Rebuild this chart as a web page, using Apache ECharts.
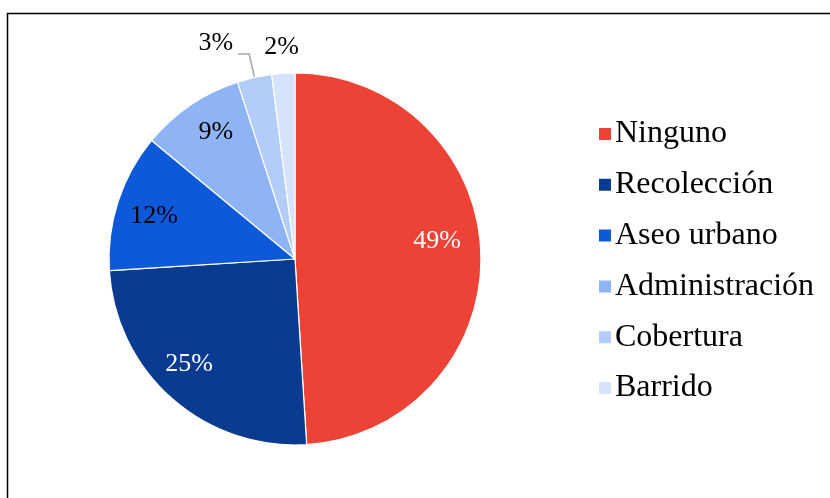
<!DOCTYPE html>
<html>
<head>
<meta charset="utf-8">
<script src="https://cdn.jsdelivr.net/npm/echarts@6/dist/echarts.min.js"></script>
<style>
html,body{margin:0;padding:0;background:#fff;}
#chart{width:830px;height:498px;}
</style>
</head>
<body>
<div id="chart"></div>
<script>
var categories = ['Ninguno', 'Recolección', 'Aseo urbano', 'Administración', 'Cobertura', 'Barrido'];
var values = [49, 25, 12, 9, 3, 2];
var colors = ['#EC4336', '#0B3B91', '#0E59DA', '#8FB4F6', '#B3CCF8', '#D5E3FB'];
var labelColors = ['#fff', '#fff', '#000', '#000', '#000', '#000'];

var FONT = "'Liberation Serif', 'Times New Roman', serif";
var CENTER = [295, 259];
var R = 186;

function fmt(p) { return p.value + '%'; }

var mainData = categories.map(function (c, i) {
  var d = { name: c, value: values[i], itemStyle: { color: colors[i] } };
  if (i === 4) {
    d.label = { show: true, position: 'outside', color: '#000' };
    d.labelLine = { show: true };
  }
  return d;
});

var innerLabelData = categories.map(function (c, i) {
  return {
    name: c, value: values[i],
    label: { show: i < 4, color: labelColors[i] }
  };
});

var outerLabelData = categories.map(function (c, i) {
  return {
    name: c, value: values[i],
    label: { show: i === 5, color: '#000' }
  };
});

var chart = echarts.init(document.getElementById('chart'), null, { renderer: 'canvas' });
chart.setOption({
  backgroundColor: '#fff',
  animation: false,
  graphic: [{
    type: 'rect', silent: true, z: 100,
    shape: { x: 7.5, y: 13.5, width: 840, height: 500 },
    style: { fill: 'none', stroke: '#000', lineWidth: 1.5 }
  }],
  legend: {
    orient: 'vertical',
    left: 592, top: 113,
    itemWidth: 14, itemHeight: 14, itemGap: 18.8,
    icon: 'rect',
    data: categories,
    textStyle: { fontFamily: FONT, fontSize: 32, color: '#000', padding: [0, 0, 0, -2] }
  },
  series: [{
    type: 'pie',
    center: CENTER, radius: R,
    startAngle: 90, clockwise: true,
    silent: true,
    itemStyle: { borderColor: '#fff', borderWidth: 1.2 },
    label: { show: false, formatter: fmt, fontFamily: FONT, fontSize: 26, color: '#000' },
    labelLine: { show: false, length: 24, length2: 11, smooth: false, lineStyle: { color: '#A6A6A6', width: 1.5 } },
    labelLayout: function (p) { return p.dataIndex === 4 ? { dy: -11 } : {}; },
    data: mainData
  }, {
    type: 'pie',
    center: CENTER, radius: [R * 0.56, R],
    startAngle: 90, clockwise: true,
    silent: true, legendHoverLink: false,
    itemStyle: { color: 'transparent', borderWidth: 0 },
    label: { show: true, position: 'inside', formatter: fmt, fontFamily: FONT, fontSize: 26 },
    labelLine: { show: false },
    labelLayout: function (p) {
      if (p.dataIndex === 0) return { dx: -6, dy: -13 };
      if (p.dataIndex === 1) return { dx: -8, dy: -6 };
      if (p.dataIndex === 3) return { dx: 4, dy: -4 };
      if (p.dataIndex === 2) return { dy: 3 };
      return {};
    },
    data: innerLabelData
  }, {
    type: 'pie',
    center: CENTER, radius: [R, R + 46],
    startAngle: 90, clockwise: true,
    silent: true, legendHoverLink: false,
    itemStyle: { color: 'transparent', borderWidth: 0 },
    label: { show: true, position: 'inside', formatter: fmt, fontFamily: FONT, fontSize: 26 },
    labelLine: { show: false },
    data: outerLabelData
  }]
});
</script>
</body>
</html>
